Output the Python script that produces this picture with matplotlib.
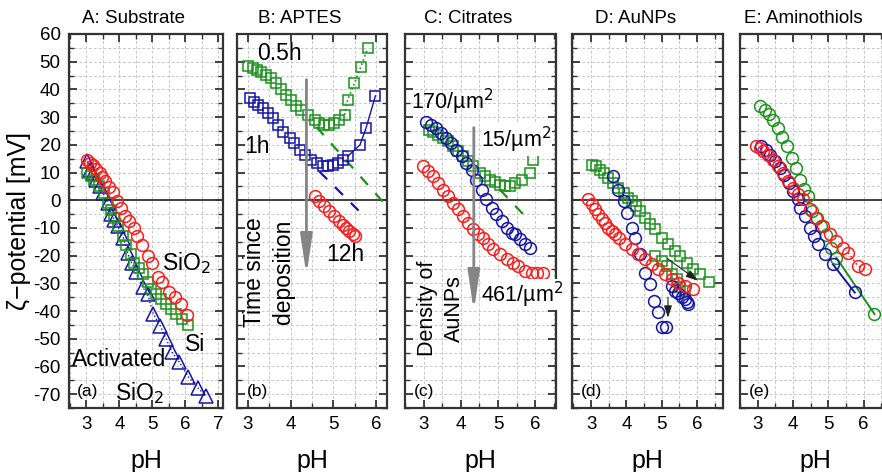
import numpy as np
import matplotlib
matplotlib.use('Agg')
import matplotlib.pyplot as plt
from matplotlib.ticker import MultipleLocator

plt.rcParams['font.family'] = ['Liberation Sans', 'DejaVu Sans']
plt.rcParams['axes.unicode_minus'] = False

RED = '#ff1a1a'
GREEN = '#1a921a'
BLUE = '#1414a8'
FRAME = '#333333'

# ---- A: Substrate
a_sio2_ph = [3.02, 3.1, 3.2, 3.3, 3.4, 3.48, 3.57, 3.68, 3.8, 3.92, 4.05, 4.18,
             4.3, 4.45, 4.55, 4.7, 4.86, 5.0, 5.16, 5.3, 5.52, 5.69, 5.87, 6.05]
a_sio2_z = [14.6, 13.6, 12.6, 11.3, 10, 8.5, 6.8, 4.8, 2.8, -0.3, -2.7, -5.7,
            -7.5, -10, -13, -16, -20, -22.5, -27.8, -29.6, -33, -35, -37.5, -41.5]
a_si_ph = [3.03, 3.14, 3.24, 3.39, 3.52, 3.65, 3.75, 3.85, 3.95, 4.1, 4.2, 4.35,
           4.45, 4.6, 4.71, 4.86, 4.96, 5.12, 5.27, 5.42, 5.57, 5.72, 5.9, 6.09]
a_si_z = [9.8, 8.6, 7.3, 5, 2.7, -1, -3.6, -6.5, -9.3, -13, -16, -19.5,
          -22.5, -24.5, -26.7, -29.4, -32, -33.9, -35.7, -37.5, -39.3, -41, -43, -45]
a_act_ph = [3.03, 3.1, 3.2, 3.3, 3.4, 3.5, 3.65, 3.75, 3.85, 3.95, 4.12, 4.25,
            4.37, 4.5, 4.71, 4.86, 5.03, 5.24, 5.42, 5.6, 5.82, 6.1, 6.39, 6.63]
a_act_z = [14, 11, 10, 7.3, 5, 2.7, -1, -5, -7, -9.3, -13.5, -18.9,
           -22.5, -26, -31.4, -34, -41, -45.3, -50, -54.8, -58.4, -63.8, -67.8, -70.5]

# ---- B: APTES
b_05h_ph = [3.0, 3.12, 3.22, 3.32, 3.43, 3.55, 3.67, 3.78, 3.9, 4.02, 4.13, 4.25,
            4.4, 4.56, 4.67, 4.79, 4.9, 5.02, 5.14, 5.26, 5.33, 5.49, 5.64, 5.8]
b_05h_z = [48.6, 47.6, 47, 46.4, 45.2, 44, 42.2, 40, 38, 36.2, 34, 32.6,
           30.8, 29, 27.8, 27.2, 27.2, 27.8, 29, 30.8, 36.2, 42.2, 48.2, 54.8]
b_1h_ph = [3.05, 3.14, 3.24, 3.36, 3.47, 3.59, 3.7, 3.82, 3.98, 4.09, 4.21, 4.33,
           4.48, 4.61, 4.75, 4.87, 4.98, 5.1, 5.22, 5.33, 5.62, 5.76, 5.98]
b_1h_z = [36.8, 35.6, 34.4, 33.2, 31.4, 29.6, 27.2, 24.8, 22.4, 20.6, 18.2, 16.4,
          14.6, 13.4, 12.2, 12.2, 12.8, 13.4, 14.6, 15.8, 20, 26, 37.7]
b_12h_ph = [4.56, 4.67, 4.79, 4.9, 5.02, 5.14, 5.22, 5.3, 5.37, 5.45, 5.5]
b_12h_z = [1.4, -0.3, -2.2, -4, -5.8, -7.5, -8.8, -9.9, -11.2, -12.3, -13]
b_05h_fit_ph = [4.6, 6.15]
b_05h_fit_z = [26.5, -0.5]
b_1h_fit_ph = [4.67, 5.72]
b_1h_fit_z = [10.4, -5.8]

# ---- C: Citrates
c_15_ph = [3.14, 3.25, 3.39, 3.52, 3.66, 3.79, 3.93, 4.06, 4.2, 4.33, 4.51, 4.65,
           4.78, 4.92, 5.05, 5.19, 5.32, 5.46, 5.64, 5.86, 5.95]
c_15_z = [25.4, 24.5, 23.6, 22.4, 21.2, 19.4, 17.6, 15.8, 14, 12.2, 9.9, 8.6,
          7.4, 6.5, 5.6, 5.3, 5.3, 6.3, 7.4, 9.9, 14.6]
c_170_ph = [3.07, 3.21, 3.34, 3.48, 3.61, 3.75, 3.88, 4.02, 4.15, 4.29, 4.42, 4.56,
            4.69, 4.83, 4.96, 5.1, 5.24, 5.37, 5.46, 5.59, 5.73, 5.85]
c_170_z = [28.4, 27.2, 26, 24.2, 22.4, 20.6, 18.2, 15.8, 13.4, 11, 7.4, 3.8,
           0.3, -2.7, -5.1, -7.5, -9.9, -11.7, -12.3, -14.1, -15.9, -17.1]
c_461_ph = [2.98, 3.12, 3.25, 3.39, 3.52, 3.66, 3.79, 3.93, 4.06, 4.2, 4.33, 4.47,
            4.6, 4.74, 4.87, 5.05, 5.23, 5.41, 5.55, 5.73, 5.91, 6.05, 6.22]
c_461_z = [12.2, 10.4, 8.6, 6.3, 3.8, 1.4, -0.9, -3.3, -5.8, -8.1, -10.5, -12.3,
           -13.5, -15.9, -17.7, -19.5, -21.3, -22.5, -23.7, -25.5, -26.1, -26.1, -26.1]
c_15_fit_ph = [5.05, 5.73]
c_15_fit_z = [3.8, -5.8]

# ---- D: AuNPs
d_g1_ph = [3.02, 3.13, 3.25, 3.38, 3.49, 3.63, 3.77, 3.92, 4.06, 4.15, 4.27, 4.39,
           4.53, 4.67, 4.81, 5.0, 5.19, 5.38, 5.52, 5.71, 5.9, 6.09, 6.35]
d_g1_z = [12.8, 12.2, 11, 9.9, 8, 6.3, 4.5, 2.7, 0.9, -0.3, -2.2, -4,
          -6.3, -8.7, -10.5, -13.5, -15.9, -18.3, -20.1, -22.5, -24.9, -26.7, -29.5]
d_g2_ph = [4.81, 5.0, 5.14, 5.29, 5.43, 5.52, 5.66]
d_g2_z = [-20.1, -22, -23.7, -26.7, -28.5, -31.5, -32.7]
d_b1_ph = [3.63, 3.77, 3.92, 4.01, 4.15, 4.25, 4.39, 4.53, 4.67, 4.79, 4.9, 5.0, 5.13]
d_b1_z = [8.9, 3.8, -0.3, -4.5, -9.9, -13.5, -19.5, -26.1, -30.3, -36.3, -40.5, -45.9, -45.9]
d_b2_ph = [5.29, 5.38, 5.47, 5.57, 5.66, 5.73, 5.76]
d_b2_z = [-30.9, -32.7, -33.5, -35.1, -35.7, -36.9, -37.5]
d_r_ph = [2.92, 3.02, 3.11, 3.21, 3.3, 3.4, 3.49, 3.59, 3.69, 3.78, 3.97, 4.15,
          4.34, 4.53, 4.72, 4.91, 5.1, 5.29, 5.47, 5.66, 5.88]
d_r_z = [0.3, -1.5, -3.3, -5.1, -6.9, -8.4, -9.9, -11.2, -12.3, -13.5, -15.9, -17.7,
         -19.5, -21.3, -23.1, -24.9, -26.7, -28.5, -29.7, -30.9, -32.1]

# ---- E: Aminothiols
e_g_ph = [3.08, 3.2, 3.32, 3.43, 3.58, 3.7, 3.83, 3.96, 4.08, 4.19, 4.3, 4.43,
          4.55, 4.68, 4.8, 4.93, 5.09, 5.23, 6.31]
e_g_z = [34, 32.6, 31.2, 29, 26, 23, 19.4, 15.2, 11.6, 7.4, 4.1, 1.4,
         -4, -6.3, -9.4, -12.5, -17.1, -20.7, -41.1]
e_b_ph = [3.1, 3.23, 3.34, 3.48, 3.62, 3.76, 3.89, 4.0, 4.14, 4.19, 4.33, 4.47,
          4.61, 4.71, 4.9, 5.13, 5.75]
e_b_z = [19.4, 18.2, 16.4, 14, 11.6, 9.2, 6.2, 3.2, 0.3, -2.7, -5.8, -9.9,
         -12.9, -15.9, -19.5, -23.1, -33.3]
e_r_ph = [2.94, 3.06, 3.15, 3.29, 3.43, 3.58, 3.72, 3.86, 4.0, 4.14, 4.28, 4.47,
          4.66, 4.85, 5.04, 5.23, 5.42, 5.56, 5.84, 6.03]
e_r_z = [19.4, 18.8, 17.6, 16.4, 14.6, 12.2, 9.9, 6.8, 4.5, 2.1, 0.3, -3.3,
         -6.3, -9.4, -12.3, -14.7, -17.1, -18.9, -23.7, -24.9]

titles = ['A: Substrate', 'B: APTES', 'C: Citrates', 'D: AuNPs', 'E: Aminothiols']
letters = ['(a)', '(b)', '(c)', '(d)', '(e)']
xlims = [(2.47, 7.15), (2.75, 6.25), (2.5, 6.56), (2.46, 6.74), (2.5, 6.75)]
xtick_sets = [[3, 4, 5, 6, 7], [3, 4, 5, 6], [3, 4, 5, 6], [3, 4, 5, 6], [3, 4, 5, 6]]
yticks = list(range(-70, 61, 10))

W, H = 882, 472
fig = plt.figure(figsize=(W / 100, H / 100), dpi=100)
lefts = [69, 237, 405, 572, 740]
widths = [154, 150, 151, 151, 150]
top, bottom = 34, 408
axs = [fig.add_axes([l / W, (H - bottom) / H, w / W, (bottom - top) / H])
       for l, w in zip(lefts, widths)]

for i, ax in enumerate(axs):
    ax.set_xlim(*xlims[i])
    ax.set_ylim(-75, 60)
    ax.set_xticks(xtick_sets[i])
    ax.set_yticks(yticks)
    ax.xaxis.set_minor_locator(MultipleLocator(0.5))
    ax.yaxis.set_minor_locator(MultipleLocator(5))
    ax.grid(which='both', color='#c8c8c8', linestyle=(0, (3, 2)), linewidth=0.7)
    ax.set_axisbelow(True)
    ax.axhline(0, color=FRAME, lw=1.3, zorder=1)
    for s in ax.spines.values():
        s.set_linewidth(1.6)
        s.set_color(FRAME)
    ax.tick_params(which='both', direction='in', top=True, right=True,
                   color=FRAME, labelsize=13.5, pad=6)
    ax.tick_params(which='major', length=6, width=1.3)
    ax.tick_params(which='minor', length=3.5, width=1.0)
    if i > 0:
        ax.tick_params(labelleft=False)
    ax.set_xlabel('pH', fontsize=18, labelpad=11)
    ax.text(0.42, 1.02, titles[i], transform=ax.transAxes, ha='center',
            va='bottom', fontsize=13.5)
    ax.text(xlims[i][0] + 0.24, -69, letters[i], fontsize=12.5, va='center')

axs[0].set_ylabel('ζ−potential [mV]', fontsize=18, labelpad=2)

circ = dict(marker='o', mfc='none', ms=8.5, mew=1.1, ls='none')
sq = dict(marker='s', mfc='none', ms=7.5, mew=1.1, ls='none')
big_arrow = dict(arrowstyle='-|>,head_length=1.2,head_width=0.18',
                 color='#858585', lw=2.0, mutation_scale=20)
small_arrow = dict(arrowstyle='-|>,head_length=0.6,head_width=0.2',
                   color='#202020', lw=0.8, mutation_scale=12)

# A
ax = axs[0]
ax.plot(a_act_ph, a_act_z, color=BLUE, ls=':', lw=1.0)
ax.plot(a_act_ph, a_act_z, color=BLUE, marker='^', mfc='none', ms=9.5, mew=1.1, ls='none')
ax.plot(a_si_ph, a_si_z, color=GREEN, **sq)
ax.plot(a_sio2_ph, a_sio2_z, color=RED, **circ)
ax.text(5.3, -22.5, 'SiO$_2$', fontsize=16.5, va='center')
ax.text(6.0, -52, 'Si', fontsize=16.5, va='center')
ax.text(2.55, -57.5, 'Activated', fontsize=16.5, va='center')
ax.text(3.88, -69.5, 'SiO$_2$', fontsize=16.5, va='center')

# B
ax = axs[1]
ax.plot(b_05h_fit_ph, b_05h_fit_z, color=GREEN, ls=(0, (5, 5)), lw=1.6)
ax.plot(b_1h_fit_ph, b_1h_fit_z, color=BLUE, ls=(0, (5, 5)), lw=1.6)
ax.plot(b_05h_ph[-5:], b_05h_z[-5:], color=GREEN, ls=':', lw=1.2)
ax.plot(b_1h_ph[-4:], b_1h_z[-4:], color=BLUE, ls='-', lw=1.0)
ax.plot(b_05h_ph, b_05h_z, color=GREEN, **sq)
ax.plot(b_1h_ph, b_1h_z, color=BLUE, **sq)
ax.plot(b_12h_ph, b_12h_z, color=RED, **circ)
ax.annotate('', xy=(4.37, -28), xytext=(4.37, 44.5), arrowprops=big_arrow)
ax.text(3.23, 53, '0.5h', fontsize=16.5, va='center')
ax.text(2.93, 19.3, '1h', fontsize=16.5, va='center')
ax.text(4.84, -19.6, '12h', fontsize=16.5, va='center')
ax.text(3.5, -26, 'Time since\ndeposition', fontsize=16.5, rotation=90,
        ha='center', va='center', multialignment='center', linespacing=1.35)

# C
ax = axs[2]
ax.plot(c_15_fit_ph, c_15_fit_z, color=GREEN, ls=(0, (5, 5)), lw=1.6)
ax.plot(c_15_ph, c_15_z, color=GREEN, **sq)
ax.plot(c_170_ph, c_170_z, color=BLUE, **circ)
ax.plot(c_461_ph, c_461_z, color=RED, **circ)
ax.annotate('', xy=(4.35, -41), xytext=(4.35, 27.2), arrowprops=big_arrow)
ax.text(2.66, 35.5, '170/µm$^2$', fontsize=15.5, va='center')
ax.text(4.55, 21.8, '15/µm$^2$', fontsize=15.5, va='center',
        bbox=dict(fc='white', ec='none', pad=0.5))
ax.text(4.55, -34, '461/µm$^2$', fontsize=15.5, va='center',
        bbox=dict(fc='white', ec='none', pad=0.5))
ax.text(3.46, -39, 'Density of\nAuNPs', fontsize=15.5, rotation=90,
        ha='center', va='center', multialignment='center', linespacing=1.35)

# D
ax = axs[3]
ax.plot(d_g1_ph, d_g1_z, color=GREEN, **sq)
ax.plot(d_g2_ph, d_g2_z, color=GREEN, **sq)
ax.plot(d_b1_ph, d_b1_z, color=BLUE, **circ)
ax.plot(d_b2_ph, d_b2_z, color=BLUE, **circ)
ax.plot(d_r_ph, d_r_z, color=RED, **circ)
ax.annotate('', xy=(6.09, -29.6), xytext=(5.1, -20.5), arrowprops=small_arrow)
ax.annotate('', xy=(5.18, -43.4), xytext=(5.18, -34), arrowprops=small_arrow)

# E
ax = axs[4]
ax.plot(e_g_ph[-2:], e_g_z[-2:], color=GREEN, lw=1.4)
ax.plot(e_b_ph[-2:], e_b_z[-2:], color=BLUE, lw=1.4)
ax.plot(e_r_ph[-3:], e_r_z[-3:], color=RED, ls=':', lw=1.2)
ax.plot(e_g_ph, e_g_z, color=GREEN, **circ)
ax.plot(e_b_ph, e_b_z, color=BLUE, **circ)
ax.plot(e_r_ph, e_r_z, color=RED, **circ)

fig.savefig('out.png', dpi=100)
